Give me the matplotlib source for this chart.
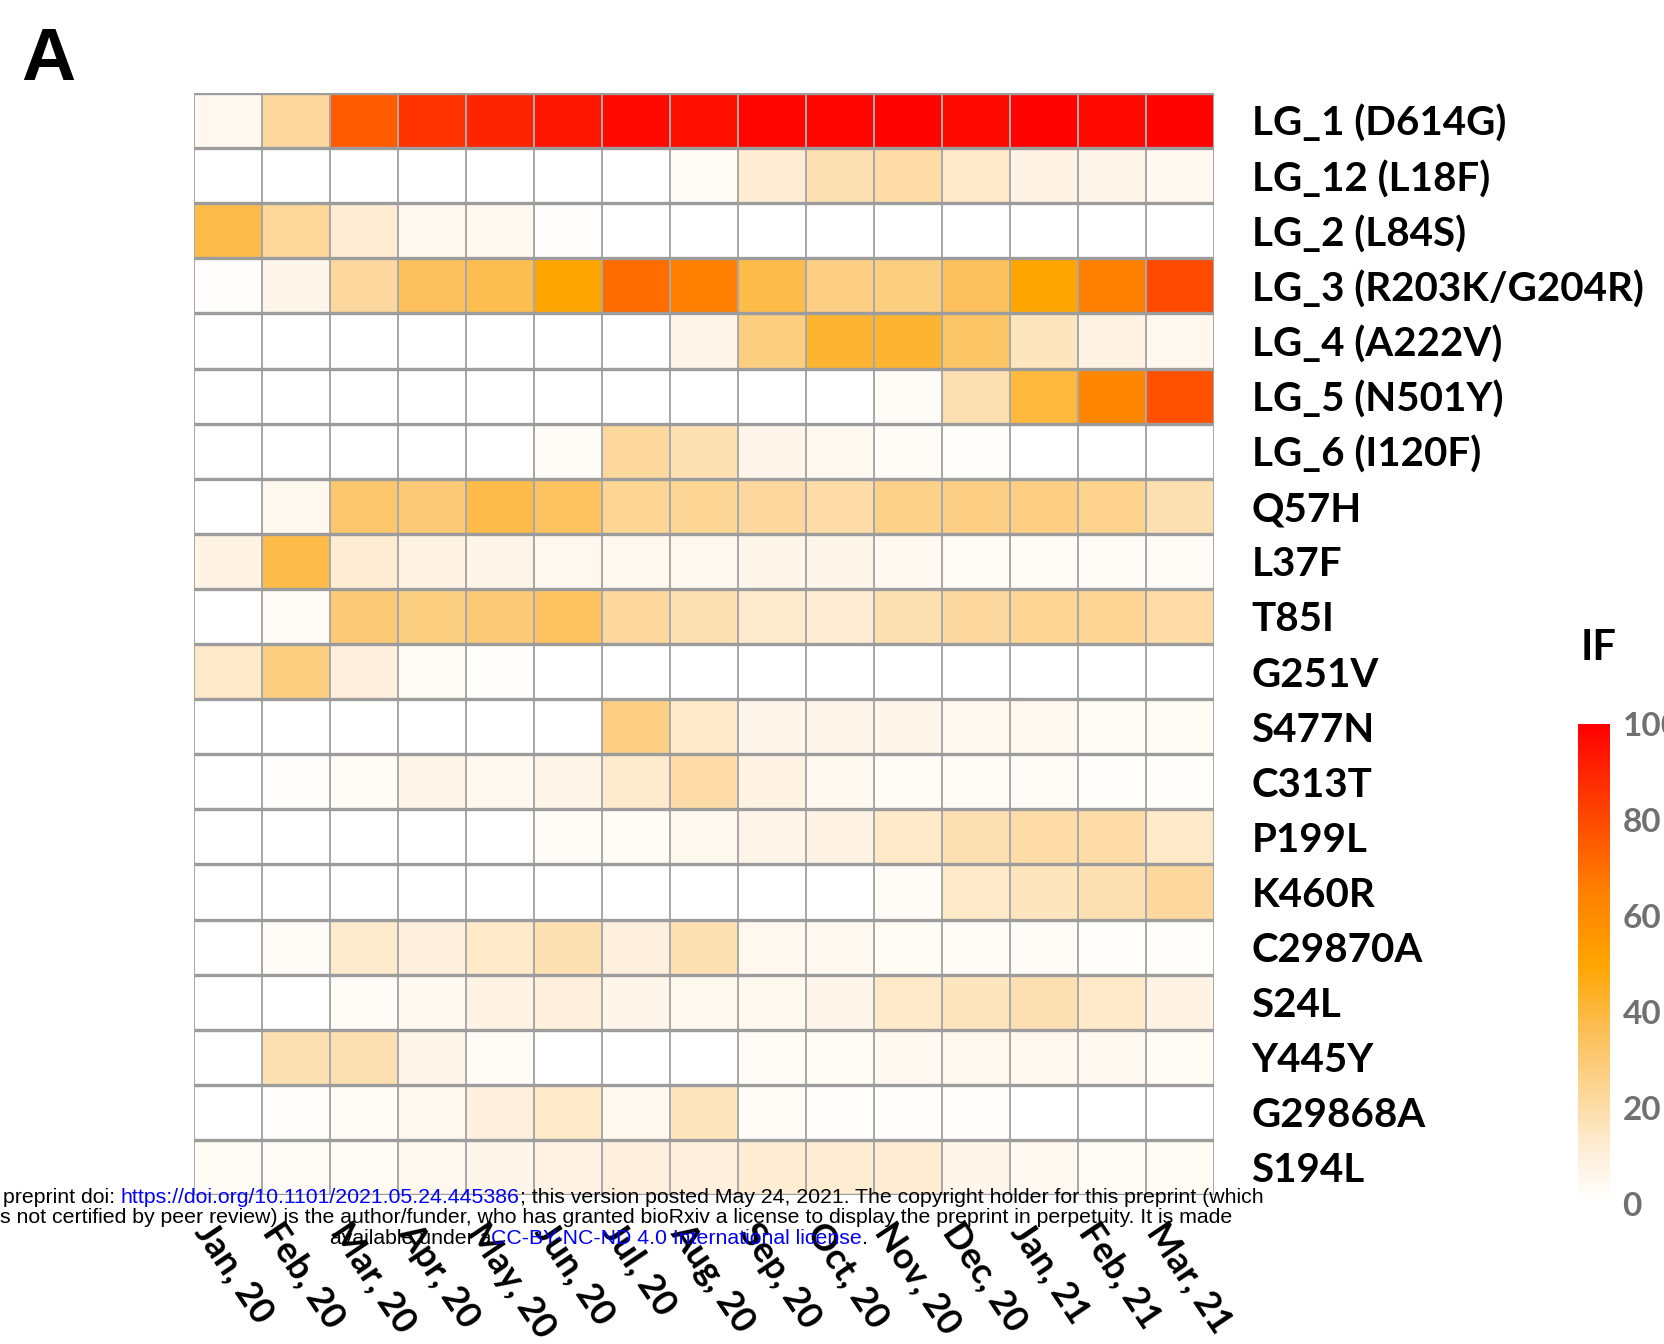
import matplotlib
matplotlib.use("Agg")
import matplotlib.pyplot as plt
import numpy as np
from matplotlib.colors import LinearSegmentedColormap
from matplotlib.transforms import ScaledTranslation

# Months (columns) and mutations (rows)
months = ["Jan, 20", "Feb, 20", "Mar, 20", "Apr, 20", "May, 20", "Jun, 20", "Jul, 20", "Aug, 20",
          "Sep, 20", "Oct, 20", "Nov, 20", "Dec, 20", "Jan, 21", "Feb, 21", "Mar, 21"]

mutations = ["LG_1 (D614G)", "LG_12 (L18F)", "LG_2 (L84S)", "LG_3 (R203K/G204R)", "LG_4 (A222V)",
             "LG_5 (N501Y)", "LG_6 (I120F)", "Q57H", "L37F", "T85I", "G251V", "S477N", "C313T",
             "P199L", "K460R", "C29870A", "S24L", "Y445Y", "G29868A", "S194L"]

# IF values (%), one list per row
lg_1 = [5, 22, 75, 86, 90, 94, 97, 96, 98, 98, 99, 97, 99, 97, 99]
lg_12 = [0, 0, 0, 0, 0, 0, 0, 2, 12, 18, 20, 14, 8, 6, 4]
lg_2 = [38, 23, 12, 5, 5, 1, 0, 0, 0, 0, 0, 0, 0, 0, 0]
lg_3 = [1, 6, 22, 35, 37, 50, 70, 65, 38, 27, 28, 35, 50, 65, 80]
lg_4 = [0, 0, 0, 0, 0, 0, 0, 7, 28, 42, 42, 33, 16, 8, 5]
lg_5 = [0, 0, 0, 0, 0, 0, 0, 0, 0, 0, 2, 18, 40, 62, 78]
lg_6 = [0, 0, 0, 0, 0, 2, 22, 18, 6, 4, 2, 1, 0, 0, 0]
q57h = [0, 5, 32, 30, 38, 34, 24, 24, 22, 20, 26, 27, 27, 25, 18]
l37f = [8, 38, 12, 8, 7, 5, 5, 5, 6, 6, 4, 3, 3, 2, 2]
t85i = [0, 2, 30, 28, 30, 34, 22, 18, 13, 12, 18, 22, 24, 24, 20]
g251v = [14, 28, 10, 3, 1, 0, 0, 0, 0, 0, 0, 0, 0, 0, 0]
s477n = [0, 0, 0, 0, 0, 0, 27, 14, 6, 6, 6, 4, 5, 3, 3]
c313t = [0, 1, 3, 7, 5, 7, 13, 20, 8, 4, 3, 2, 2, 1, 1]
p199l = [0, 0, 0, 0, 0, 2, 3, 5, 7, 8, 14, 18, 20, 20, 14]
k460r = [0, 0, 0, 0, 0, 0, 0, 0, 0, 0, 2, 14, 16, 18, 22]
c29870a = [0, 2, 13, 10, 14, 18, 10, 18, 5, 4, 3, 2, 2, 1, 1]
s24l = [0, 0, 2, 4, 8, 10, 6, 5, 5, 6, 14, 16, 18, 14, 8]
y445y = [0, 18, 18, 6, 2, 0, 0, 0, 2, 3, 4, 5, 5, 4, 3]
g29868a = [0, 1, 3, 5, 10, 14, 5, 16, 2, 1, 1, 1, 0, 0, 0]
s194l = [3, 2, 3, 5, 6, 8, 10, 10, 12, 12, 12, 6, 4, 3, 3]

cbar_ticks = [0, 20, 40, 60, 80, 100]

data = np.array([lg_1, lg_12, lg_2, lg_3, lg_4, lg_5, lg_6, q57h, l37f, t85i, g251v, s477n,
                 c313t, p199l, k460r, c29870a, s24l, y445y, g29868a, s194l], dtype=float)

cmap = LinearSegmentedColormap.from_list("if_cmap", [
    (0.0, "#FFFFFF"), (0.1, "#FEF0DC"), (0.2, "#FDDCA8"), (0.35, "#FCC15C"),
    (0.5, "#FFA500"), (0.65, "#FF8000"), (0.8, "#FF4A00"), (1.0, "#FF0000")])

label_font = "Lato"

fig = plt.figure(figsize=(16.64, 13.44), dpi=100)
W, H = 1664.0, 1344.0

# main heatmap
ax = fig.add_axes([194 / W, 1 - 1195 / H, 1020 / W, 1102 / H])
mesh = ax.pcolormesh(np.arange(len(months) + 1), np.arange(len(mutations) + 1), data,
                     cmap=cmap, vmin=0, vmax=100, edgecolors="#a8a8a8", linewidth=1.3)
ax.hlines(np.arange(len(mutations) + 1), 0, len(months), colors="#9c9c9c", linewidth=2.4)
ax.set_xlim(0, len(months))
ax.set_ylim(len(mutations), 0)
for s in ax.spines.values():
    s.set_visible(False)

ax.yaxis.tick_right()
ax.set_yticks(np.arange(len(mutations)) + 0.5)
ax.set_yticklabels(mutations, fontsize=29, fontweight="bold", family=label_font)
ax.tick_params(axis="y", length=0, pad=27)

ax.set_xticks(np.arange(len(months)) + 0.5)
ax.set_xticklabels(months, fontsize=26, fontweight="bold", family=label_font,
                   rotation=-56, ha="left", va="top", rotation_mode="anchor")
ax.tick_params(axis="x", length=0, pad=16)
shift = ScaledTranslation(-12 / 100, 0, fig.dpi_scale_trans)
for lab in ax.get_xticklabels():
    lab.set_transform(lab.get_transform() + shift)

# colorbar (labels run off the right edge, as in the source figure)
cax = fig.add_axes([1578 / W, 1 - 1204 / H, 32 / W, 480 / H])
cb = fig.colorbar(mesh, cax=cax, ticks=cbar_ticks)
cb.outline.set_visible(False)
cax.tick_params(length=0, pad=9, labelsize=24, labelcolor="#707070")
for lab in cax.get_yticklabels():
    lab.set_fontweight("bold")
    lab.set_family(label_font)

fig.text(1581 / W, 1 - 660 / H, "IF", fontsize=30, fontweight="bold", family=label_font,
         va="baseline", ha="left")
fig.text(21 / W, 1 - 80 / H, "A", fontsize=54, fontweight="bold", family="Liberation Sans",
         va="baseline", ha="left")


# bioRxiv footer, pieces chained one after another
def footer_line(x, y, parts):
    prev = None
    for txt, col in parts:
        if prev is None:
            prev = fig.text(x, y, txt, color=col, fontsize=15.3, family="Liberation Sans",
                            va="baseline", ha="left")
        else:
            prev = ax.annotate(txt, xy=(1, 0), xycoords=prev, va="bottom", ha="left", color=col,
                               fontsize=15.3, family="Liberation Sans", annotation_clip=False)


footer_line(3 / W, 1 - 1203 / H, [
    ("preprint doi: ", "black"),
    ("https://doi.org/10.1101/2021.05.24.445386", "#0000FF"),
    ("; this version posted May 24, 2021. The copyright holder for this preprint (which", "black")])
footer_line(0, 1 - 1223 / H, [
    ("s not certified by peer review) is the author/funder, who has granted bioRxiv a license "
     "to display the preprint in perpetuity. It is made", "black")])
footer_line(330 / W, 1 - 1244 / H, [
    ("available under a", "black"),
    ("CC-BY-NC-ND 4.0 International license", "#0000FF"),
    (".", "black")])

fig.savefig("out.png", dpi=100)
